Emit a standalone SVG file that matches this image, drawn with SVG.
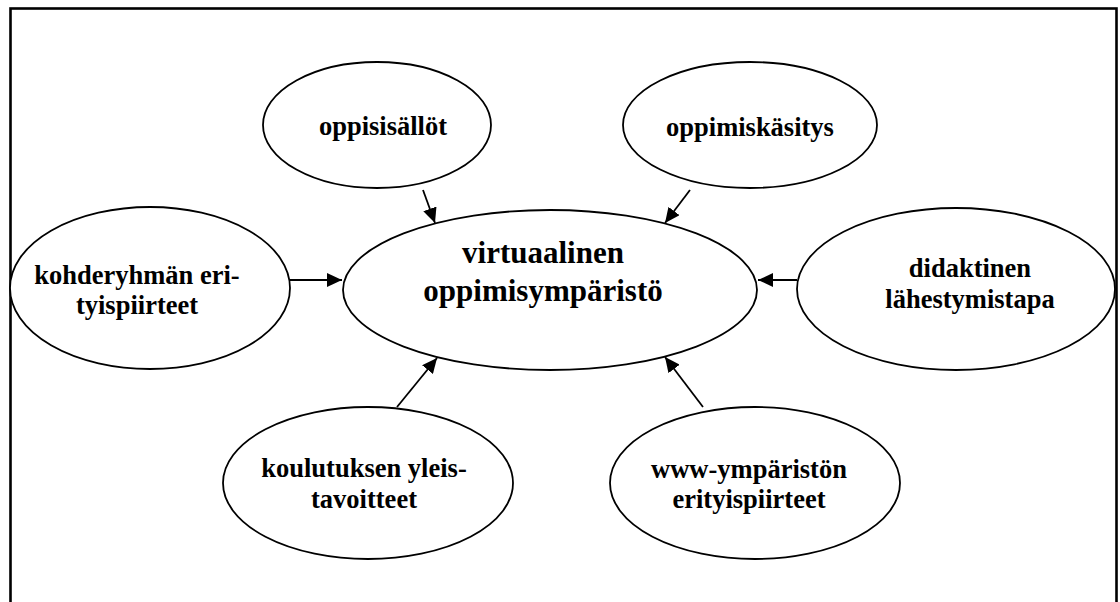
<svg xmlns="http://www.w3.org/2000/svg" width="1120" height="602" viewBox="0 0 1120 602">
<defs>
<style>
.n ellipse{fill:#fff;stroke:#000;stroke-width:1.8}
.n text{font-family:"Liberation Serif","Times New Roman",serif;font-weight:bold;font-size:26.5px;fill:#000;text-anchor:middle}
#c text{font-size:31px}
.e line{stroke:#000;stroke-width:1.8;marker-end:url(#ah)}
</style>
<marker id="ah" markerUnits="userSpaceOnUse" markerWidth="15" markerHeight="14" refX="15" refY="7" orient="auto" viewBox="0 0 15 14">
<path d="M0,0 L15,7 L0,14 z" fill="#000"/>
</marker>
</defs>
<rect x="0" y="0" width="1120" height="602" fill="#fff"/>
<rect x="10.5" y="8.5" width="1106" height="610" fill="none" stroke="#000" stroke-width="2.6"/>
<g id="edges" class="e">
<line x1="423" y1="190" x2="435" y2="223"/>
<line x1="690" y1="190" x2="665" y2="223"/>
<line x1="290" y1="280" x2="342" y2="280"/>
<line x1="797" y1="280" x2="758" y2="280"/>
<line x1="397" y1="407" x2="437" y2="358"/>
<line x1="703" y1="407" x2="665" y2="357"/>
</g>
<g id="n1" class="n">
<ellipse cx="377" cy="125" rx="114" ry="63"/>
<text x="383" y="135">oppisisällöt</text>
</g>
<g id="n2" class="n">
<ellipse cx="750" cy="125" rx="127" ry="63"/>
<text x="750" y="136">oppimiskäsitys</text>
</g>
<g id="c" class="n">
<ellipse cx="550" cy="290" rx="207" ry="80"/>
<text x="543" y="263">virtuaalinen</text>
<text x="543" y="301">oppimisympäristö</text>
</g>
<g id="n3" class="n">
<ellipse cx="150" cy="288" rx="140" ry="81"/>
<text x="137" y="284">kohderyhmän eri-</text>
<text x="137" y="314">tyispiirteet</text>
</g>
<g id="n4" class="n">
<ellipse cx="956" cy="289" rx="159" ry="81"/>
<text x="970" y="277">didaktinen</text>
<text x="970" y="308">lähestymistapa</text>
</g>
<g id="n5" class="n">
<ellipse cx="368" cy="483" rx="145" ry="76"/>
<text x="364" y="477">koulutuksen yleis-</text>
<text x="364" y="508">tavoitteet</text>
</g>
<g id="n6" class="n">
<ellipse cx="755" cy="483" rx="145" ry="76"/>
<text x="749" y="478">www-ympäristön</text>
<text x="749" y="508">erityispiirteet</text>
</g>
</svg>
